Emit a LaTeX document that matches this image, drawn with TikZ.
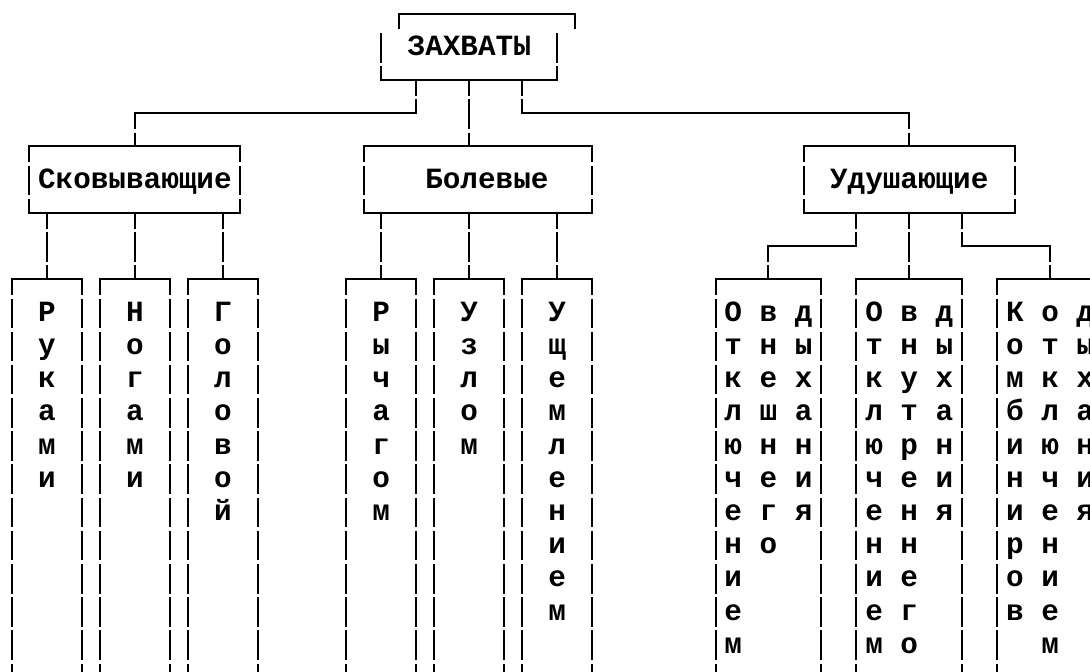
\documentclass[tikz,border=0pt]{standalone}
\usepackage{fontspec}
\setmonofont{Liberation Mono}
\usepackage{tikz}

\begin{document}
\begin{tikzpicture}[x=13.2pt, y=-24.9pt,
    hl/.style={line width=1.5pt, line cap=rect},
    vl/.style={line width=1.5pt, dash pattern=on 22.2pt off 2.7pt, dash phase=10.35pt},
    vlb/.style={line width=1.5pt, dash pattern=on 22.2pt off 2.7pt, dash phase=22.8pt},
    box/.style={rectangle, inner sep=0, outer sep=0, minimum height=#1*24.9pt},
    lbl/.style={anchor=base, inner sep=0, font=\ttfamily\bfseries\fontsize{22}{24.9}\selectfont}]
  \useasboundingbox (-0.665,-0.407) rectangle (61.27,19.83);
  \clip (-0.665,-0.407) rectangle (61.27,19.83);

  % boxes
  \node[box=2, minimum width=10*13.2pt] (zah) at (26,1) {};
  \node[box=2, minimum width=12*13.2pt] (skov) at (7,5) {};
  \node[box=2, minimum width=13*13.2pt] (bol) at (26.5,5) {};
  \node[box=2, minimum width=12*13.2pt] (udu) at (51,5) {};
  \foreach \b/\c in {ruk/2, nog/7, gol/12, ryc/21, uzl/26, ush/31}
    \node[box=13, minimum width=4*13.2pt] (\b) at (\c,14.5) {};
  \foreach \b/\c in {ud1/43, ud2/51, ud3/59}
    \node[box=13, minimum width=6*13.2pt] (\b) at (\c,14.5) {};

  % labels
  \node[lbl] (tzah) at (26,1.27) {ЗАХВАТЫ};
  \node[lbl] (tskov) at (7,5.27) {Сковывающие};
  \node[lbl] (tbol) at (27,5.27) {Болевые};
  \node[lbl] (tudu) at (51,5.27) {Удушающие};
  \foreach \c/\w in {2/{Р,у,к,а,м,и}, 7/{Н,о,г,а,м,и}, 12/{Г,о,л,о,в,о,й},
      21/{Р,ы,ч,а,г,о,м}, 26/{У,з,л,о,м}, 31/{У,щ,е,м,л,е,н,и,е,м},
      41/{О,т,к,л,ю,ч,е,н,и,е,м}, 43/{в,н,е,ш,н,е,г,о}, 45/{д,ы,х,а,н,и,я},
      49/{О,т,к,л,ю,ч,е,н,и,е,м}, 51/{в,н,у,т,р,е,н,н,е,г,о}, 53/{д,ы,х,а,н,и,я},
      57/{К,о,м,б,и,н,и,р,о,в}, 59/{о,т,к,л,ю,ч,е,н,и,е,м}, 61/{д,ы,х,а,н,и,я}}
    \foreach \l [count=\i from 9] in \w
      \node[lbl] (c\c-\i) at (\c,\i+0.27) {\l};

  % borders
  \draw[hl] (22,0) -- (32,0);
  \draw[vl] (22,0) -- (22,0.5);
  \draw[vl] (32,0) -- (32,0.5);
  \draw[vlb] (21,0.5) -- (zah.south west);
  \draw[vlb] (31,0.5) -- (zah.south east);
  \draw[hl] (zah.south west) -- (zah.south east);
  \foreach \b in {skov, bol, udu} {
    \draw[hl] (\b.north west) -- (\b.north east);
    \draw[hl] (\b.south west) -- (\b.south east);
    \draw[vl] (\b.north west) -- (\b.south west);
    \draw[vl] (\b.north east) -- (\b.south east);
  }
  \foreach \b in {ruk, nog, gol, ryc, uzl, ush, ud1, ud2, ud3} {
    \draw[hl] (\b.north west) -- (\b.north east);
    \draw[vl] (\b.north west) -- (\b.south west);
    \draw[vl] (\b.north east) -- (\b.south east);
  }

  % connectors
  \coordinate (r3) at (0,3);
  \coordinate (r7) at (0,7);
  \coordinate (zl) at (23,2);
  \coordinate (zr) at (29,2);
  \coordinate (ul) at (48,6);
  \coordinate (ur) at (54,6);
  \draw[vl] (zl) -- (zl |- r3);
  \draw[hl] (zl |- r3) -- (skov.north |- r3);
  \draw[vl] (skov.north |- r3) -- (skov.north);
  \draw[vl] (zah.south) -- (zah.south |- bol.north);
  \draw[vl] (zr) -- (zr |- r3);
  \draw[hl] (zr |- r3) -- (udu.north |- r3);
  \draw[vl] (udu.north |- r3) -- (udu.north);
  \foreach \b in {ruk, nog, gol}
    \draw[vl] (\b.north |- skov.south) -- (\b.north);
  \foreach \b in {ryc, uzl, ush}
    \draw[vl] (\b.north |- bol.south) -- (\b.north);
  \draw[vl] (ul) -- (ul |- r7);
  \draw[hl] (ul |- r7) -- (ud1.north |- r7);
  \draw[vl] (ud1.north |- r7) -- (ud1.north);
  \draw[vl] (ud2.north |- udu.south) -- (ud2.north);
  \draw[vl] (ur) -- (ur |- r7);
  \draw[hl] (ur |- r7) -- (ud3.north |- r7);
  \draw[vl] (ud3.north |- r7) -- (ud3.north);
\end{tikzpicture}
\end{document}
